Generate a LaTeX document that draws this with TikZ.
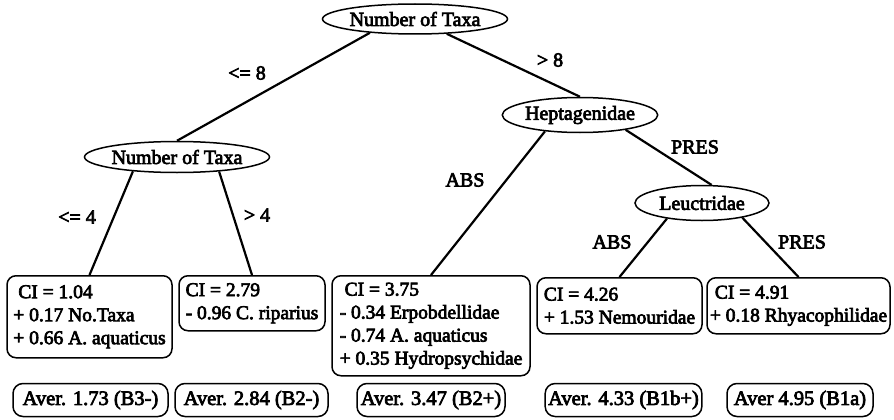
\documentclass[tikz,border=0pt]{standalone}
\usepackage{fontspec}
\setmainfont{Liberation Serif}[FakeBold=3.5]
\usetikzlibrary{shapes.geometric}
\begin{document}
\begin{tikzpicture}[x=1pt,y=-1pt,
  every node/.style={font=\fontsize{19.5}{23}\selectfont},
  split/.style={draw, ellipse, line width=1.5pt, inner sep=0pt, font=\fontsize{20}{23}\selectfont},
  leaf/.style={draw, rounded corners=9pt, line width=1.5pt, align=left, anchor=north, inner xsep=2pt, inner ysep=0pt},
  aver/.style={draw, rounded corners=10pt, line width=1.5pt, minimum height=33pt, inner xsep=3pt, inner ysep=0pt, font=\fontsize{20.5}{23}\selectfont},
  edge/.style={line width=2.2pt},
  lbl/.style={font=\fontsize{20}{23}\selectfont}]
\useasboundingbox (0,0) rectangle (894,420);

% split nodes
\node[split, minimum width=174pt, minimum height=30pt] (top) at (415,19) {Number of Taxa};
\node[split, minimum width=171pt, minimum height=31pt] (n2) at (177,157) {Number of Taxa};
\node[split, minimum width=140pt, minimum height=35pt] (hept) at (580,115) {Heptagenidae};
\node[split, minimum width=134pt, minimum height=35pt] (leuc) at (702,203) {Leuctridae};

% leaf boxes
\node[leaf, minimum width=165pt, minimum height=82pt] (b1) at (89.5,275)
  {\hspace{5pt}CI = 1.04\\+ 0.17 No.Taxa\\+ 0.66 A. aquaticus};
\node[leaf, minimum width=146pt, minimum height=55pt] (b2) at (252,275)
  {CI = 2.79\\- 0.96 C. riparius};
\node[leaf, minimum width=198pt, minimum height=100pt] (b3) at (431,275)
  {\hspace{5pt}CI = 3.75\\- 0.34 Erpobdellidae\\- 0.74 A. aquaticus\\+ 0.35 Hydropsychidae\hspace{8pt}};
\node[leaf, minimum width=165pt, minimum height=56pt] (b4) at (619.5,277)
  {CI = 4.26\\+ 1.53 Nemouridae};
\node[leaf, minimum width=183pt, minimum height=56pt] (b5) at (798.5,277)
  {\hspace{5pt}CI = 4.91\\+ 0.18 Rhyacophilidae};

% average boxes
\node[aver, minimum width=155pt] (a1) at (90.5,400) {Aver. 1.73 (B3-)};
\node[aver, minimum width=153pt] (a2) at (251.5,400) {Aver. 2.84 (B2-)};
\node[aver, minimum width=148pt] (a3) at (431,400) {Aver. 3.47 (B2+)};
\node[aver, minimum width=153pt] (a4) at (623.5,400) {Aver. 4.33 (B1b+)};
\node[aver, minimum width=146pt] (a5) at (800,400) {Aver 4.95 (B1a)};

% edges
\draw[edge] (top.197) -- (n2.north);
\draw[edge] (top.335) -- (hept.north);
\draw[edge] (n2.198) -- (b1.north);
\draw[edge] (n2.341) -- (b2.north);
\draw[edge] (hept.205) -- (b3.north);
\draw[edge] (hept.342) -- (leuc.62);
\draw[edge] (leuc.204) -- (b4.north);
\draw[edge] (leuc.340) -- (b5.north);

% edge labels
\node[lbl] (l1) at (247,73) {<= 8};
\node[lbl] (l2) at (550,60) {> 8};
\node[lbl] (l3) at (77,217) {<= 4};
\node[lbl] (l4) at (257,215) {> 4};
\node[lbl] (l5) at (465,180) {ABS};
\node[lbl] (l6) at (695,147) {PRES};
\node[lbl] (l7) at (612,242) {ABS};
\node[lbl] (l8) at (802,242) {PRES};
\end{tikzpicture}
\end{document}
